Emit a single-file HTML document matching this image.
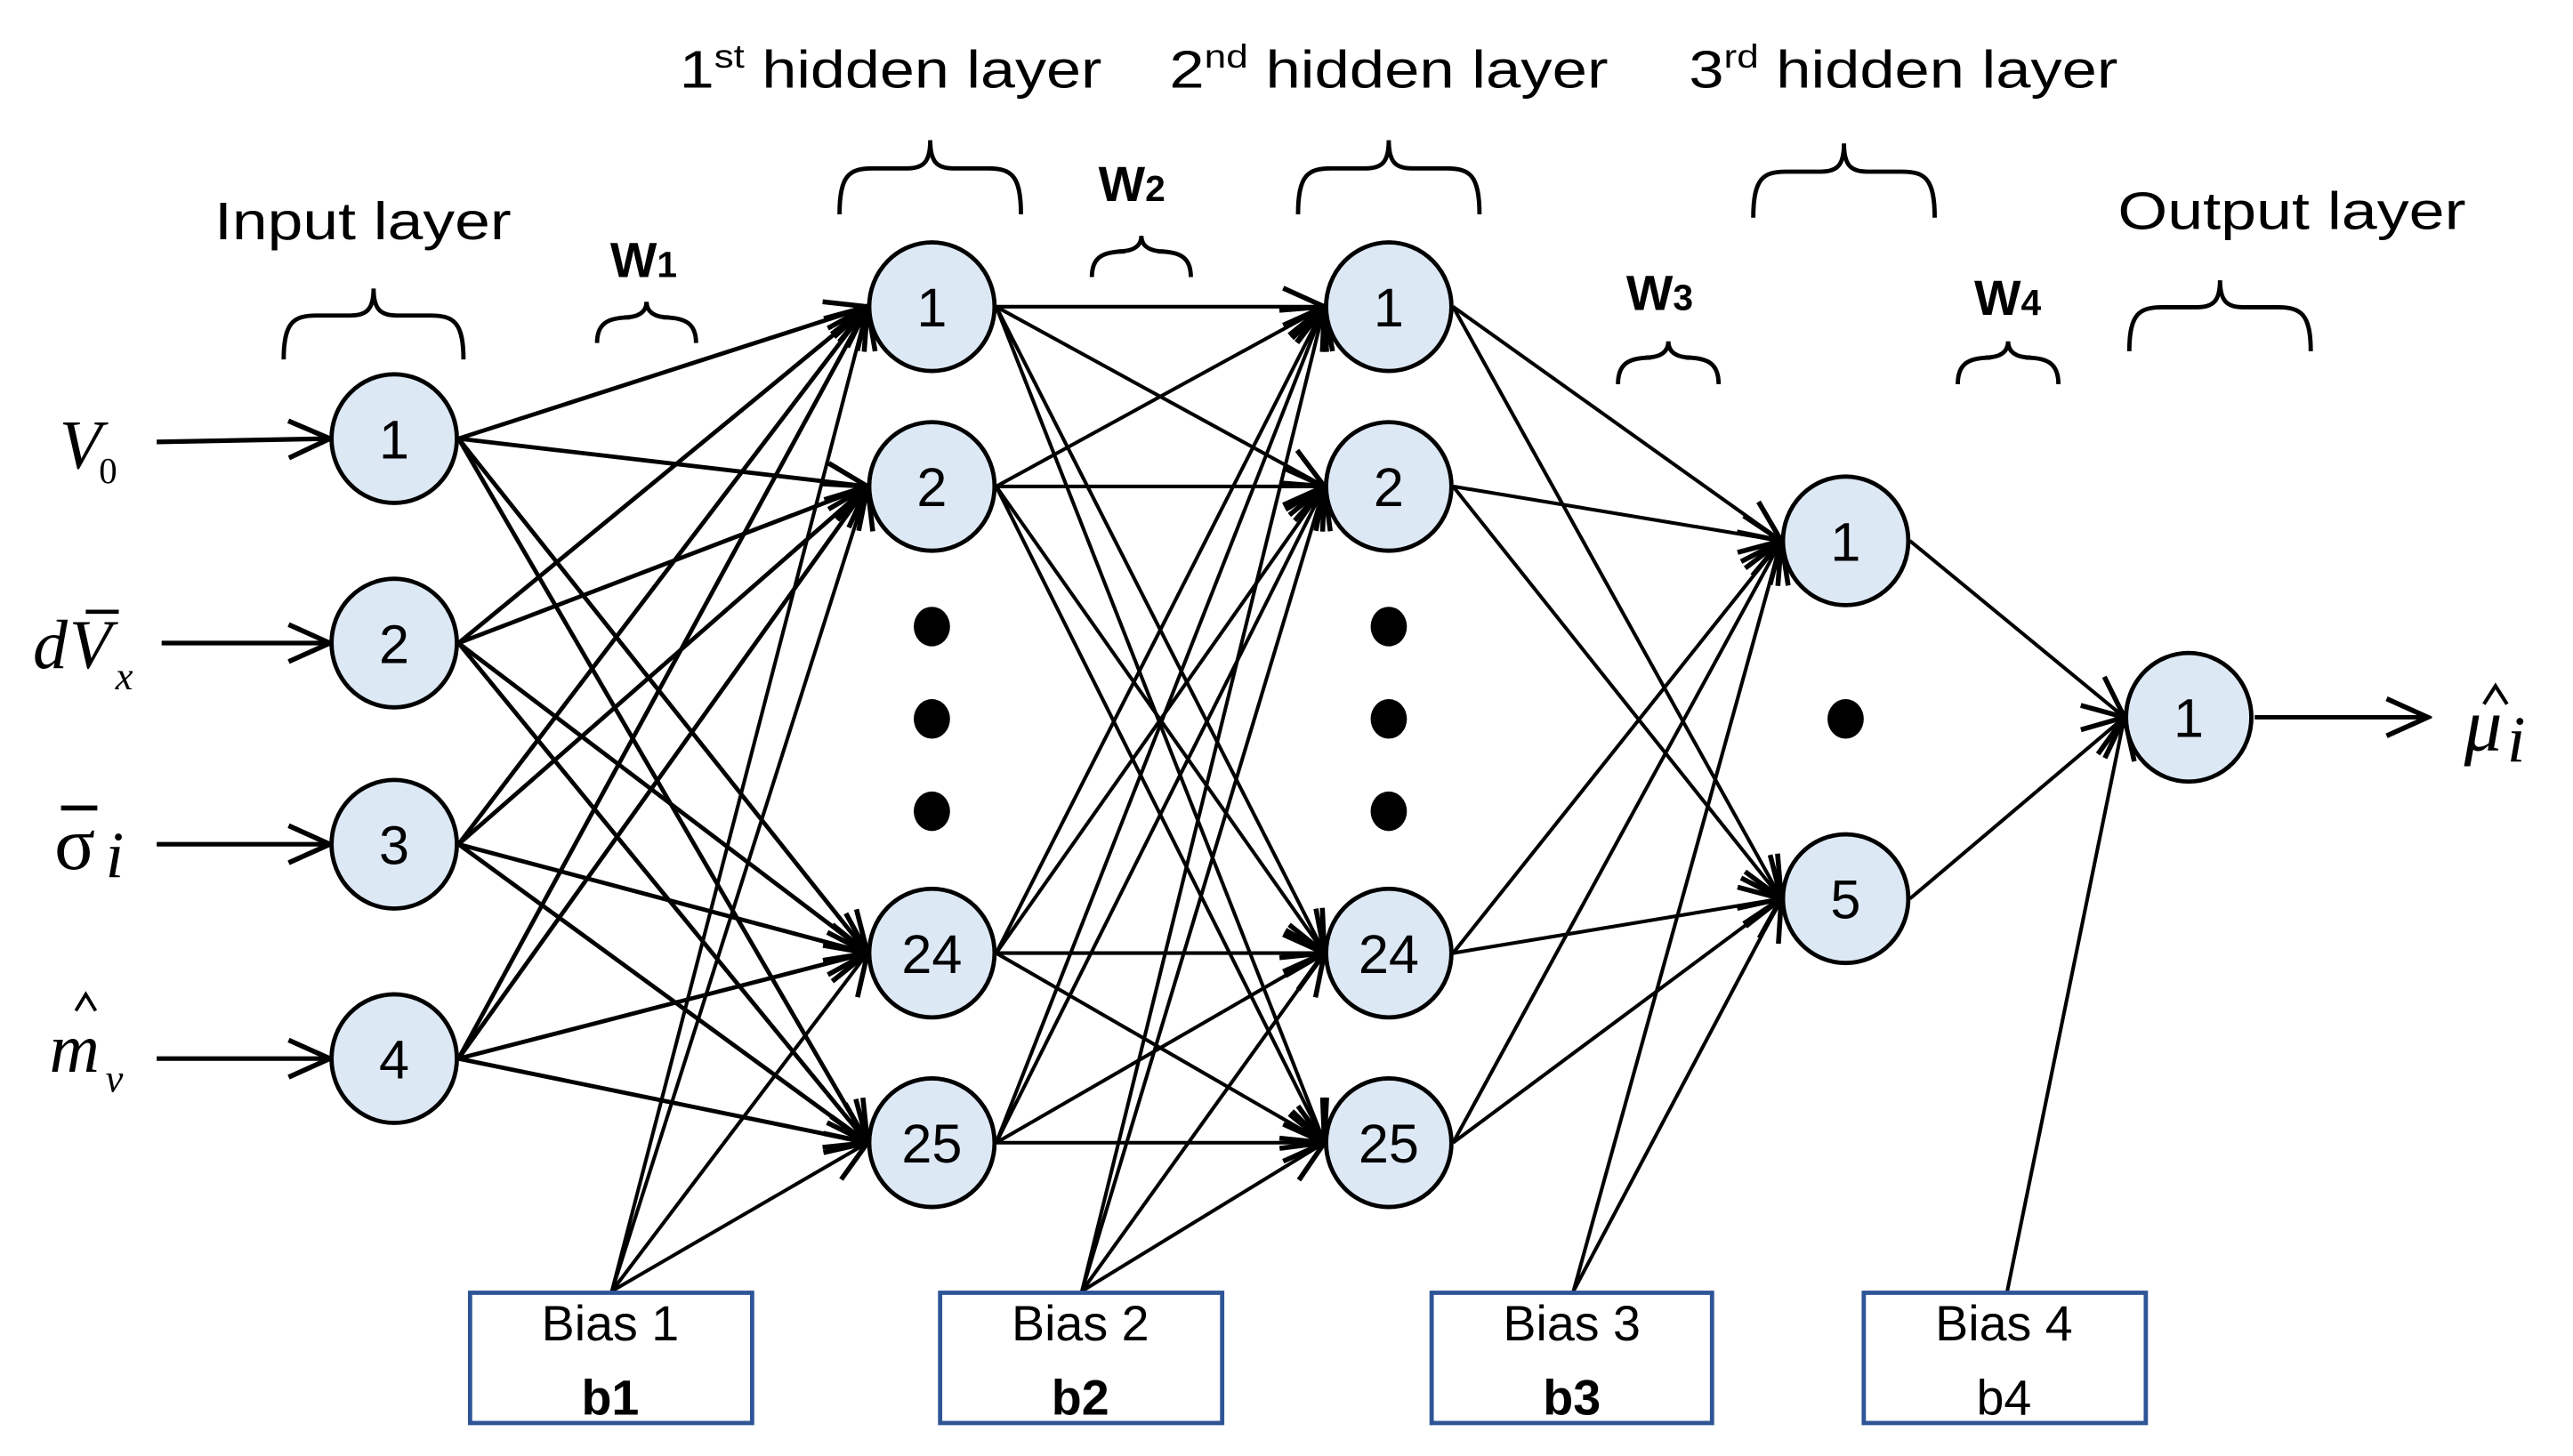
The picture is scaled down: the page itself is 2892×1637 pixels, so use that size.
<!DOCTYPE html>
<html><head><meta charset="utf-8"><style>
html,body{margin:0;padding:0;background:#fff;}
svg{display:block;}
text{font-family:"Liberation Sans",sans-serif;fill:#000;}
.m{font-family:"Liberation Serif",serif;font-style:italic;}
</style></head><body>
<svg id="s" width="2892" height="1637" viewBox="0 0 1560 883" preserveAspectRatio="none" xmlns="http://www.w3.org/2000/svg">
<defs>
<marker id="a" markerUnits="userSpaceOnUse" markerWidth="30" markerHeight="30" refX="22" refY="10" orient="auto" viewBox="0 0 24 20">
<path d="M2,1 L22,10 L2,19" fill="none" stroke="#000" stroke-width="2.4"/>
</marker>
</defs>
<g id="lines" stroke="#000" fill="none"></g>
<g id="braces" stroke="#000" stroke-width="2.6" fill="none"></g>
<g id="nodes"></g>
<text x="130" y="145" font-size="32" textLength="180" lengthAdjust="spacingAndGlyphs">Input layer</text>
<text x="412" y="53" font-size="32" textLength="256" lengthAdjust="spacingAndGlyphs">1<tspan font-size="20" dy="-12">st</tspan><tspan dy="12"> hidden  layer</tspan></text>
<text x="709" y="53" font-size="32" textLength="266" lengthAdjust="spacingAndGlyphs">2<tspan font-size="20" dy="-12">nd</tspan><tspan dy="12"> hidden  layer</tspan></text>
<text x="1024" y="53" font-size="32" textLength="260" lengthAdjust="spacingAndGlyphs">3<tspan font-size="20" dy="-12">rd</tspan><tspan dy="12"> hidden layer</tspan></text>
<text x="1284" y="139" font-size="32" textLength="211" lengthAdjust="spacingAndGlyphs">Output layer</text>
<text x="370" y="168" font-size="30" font-weight="bold">W<tspan font-size="22">1</tspan></text>
<text x="666" y="122" font-size="30" font-weight="bold">W<tspan font-size="22">2</tspan></text>
<text x="986" y="188" font-size="30" font-weight="bold">W<tspan font-size="22">3</tspan></text>
<text x="1197" y="191" font-size="30" font-weight="bold">W<tspan font-size="22">4</tspan></text>
<text class="m" x="36" y="284" font-size="42">V</text><text class="m" x="60" y="293" font-size="22" style="font-style:normal">0</text>
<text class="m" x="20" y="405" font-size="42">d</text><text class="m" x="42" y="405" font-size="42">V</text>
<line x1="52" y1="371" x2="72" y2="371" stroke="#000" stroke-width="2.5"/>
<text class="m" x="70" y="418" font-size="24">x</text>
<text class="m" x="33" y="527" font-size="46" style="font-style:normal">σ</text>
<line x1="37" y1="490" x2="59" y2="490" stroke="#000" stroke-width="3"/>
<text class="m" x="64" y="532" font-size="40">i</text>
<text class="m" x="30" y="650" font-size="42">m</text>
<path d="M46,613 L52,603 L58,613" fill="none" stroke="#000" stroke-width="2"/>
<text class="m" x="64" y="662" font-size="24">v</text>
<text class="m" x="1494" y="455" font-size="46">μ</text>
<path d="M1506,427 L1513,416 L1520,427" fill="none" stroke="#000" stroke-width="2.2"/>
<text class="m" x="1520" y="462" font-size="40">i</text>
<g fill="#fff" stroke="#2f5597" stroke-width="2.6">
<rect x="285" y="784" width="171" height="79"/>
<rect x="570" y="784" width="171" height="79"/>
<rect x="868" y="784" width="170" height="79"/>
<rect x="1130" y="784" width="171" height="79"/>
</g>
<g font-size="30" text-anchor="middle">
<text x="370" y="813">Bias 1</text><text x="370" y="858" font-weight="bold">b1</text>
<text x="655" y="813">Bias 2</text><text x="655" y="858" font-weight="bold">b2</text>
<text x="953" y="813">Bias 3</text><text x="953" y="858" font-weight="bold">b3</text>
<text x="1215" y="813">Bias 4</text><text x="1215" y="858">b4</text>
</g>
</svg>
<script>
var NS="http://www.w3.org/2000/svg";
function el(p,t,a){var e=document.createElementNS(NS,t);for(var k in a)e.setAttribute(k,a[k]);p.appendChild(e);return e;}
var L=document.getElementById('lines'),B=document.getElementById('braces'),N=document.getElementById('nodes');
var inp=[[239,266],[239,390],[239,512],[239,642]];
var h1=[[565,186],[565,295],[565,578],[565,693]];
var h2=[[842,186],[842,295],[842,578],[842,693]];
var h3=[[1119,328],[1119,545]];
var out=[[1327,435]];
var R=39;
function ln(x1,y1,x2,y2,w){el(L,'line',{x1:x1,y1:y1,x2:x2,y2:y2,'stroke-width':w,'marker-end':'url(#a)'});}
function conn(A,Bs,w){A.forEach(function(a){Bs.forEach(function(b){ln(a[0]+R,a[1],b[0]-R,b[1],w);});});}
conn(inp,h1,2.6);conn(h1,h2,2.2);conn(h2,h3,2.2);conn(h3,out,2.2);
function bias(x,y,T){T.forEach(function(b){ln(x,y,b[0]-R,b[1],2.2);});}
bias(371,783,h1);bias(656,783,h2);bias(954,783,h3);bias(1217,783,out);
[[95,268],[98,390],[95,512],[95,642]].forEach(function(p,i){ln(p[0],p[1],inp[i][0]-R,inp[i][1],2.8);});
ln(1367,435,1472,435,2.6);
function node(c,t){el(N,'ellipse',{cx:c[0],cy:c[1],rx:38,ry:39,fill:'#dde8f5',stroke:'#000','stroke-width':2.6});
var tx=el(N,'text',{x:c[0],y:c[1]+12,'text-anchor':'middle','font-size':33});tx.textContent=t;}
inp.forEach(function(c,i){node(c,String(i+1));});
var lab=['1','2','24','25'];
h1.forEach(function(c,i){node(c,lab[i]);});h2.forEach(function(c,i){node(c,lab[i]);});
node(h3[0],'1');node(h3[1],'5');node(out[0],'1');
[380,436,492].forEach(function(y){el(N,'ellipse',{cx:565,cy:y,rx:11,ry:12,fill:'#000'});el(N,'ellipse',{cx:842,cy:y,rx:11,ry:12,fill:'#000'});});
el(N,'ellipse',{cx:1119,cy:436,rx:11,ry:12,fill:'#000'});
function brace(x1,x2,yt,yb){var cx=(x1+x2)/2,ym=yt+(yb-yt)*0.38;
var d='M'+x1+','+yb+' C'+x1+','+(ym+4)+' '+(x1+6)+','+ym+' '+(x1+20)+','+ym+' L'+(cx-14)+','+ym+' C'+(cx-4)+','+ym+' '+cx+','+(ym-4)+' '+cx+','+yt+
' C'+cx+','+(ym-4)+' '+(cx+4)+','+ym+' '+(cx+14)+','+ym+' L'+(x2-20)+','+ym+' C'+(x2-6)+','+ym+' '+x2+','+(ym+4)+' '+x2+','+yb;
el(B,'path',{d:d});}
brace(172,281,175,218);brace(362,422,183,208);brace(509,619,85,130);brace(662,722,143,168);
brace(787,897,85,130);brace(981,1042,207,233);brace(1063,1173,87,132);brace(1187,1248,207,233);brace(1291,1401,170,213);
</script>
</body></html>
